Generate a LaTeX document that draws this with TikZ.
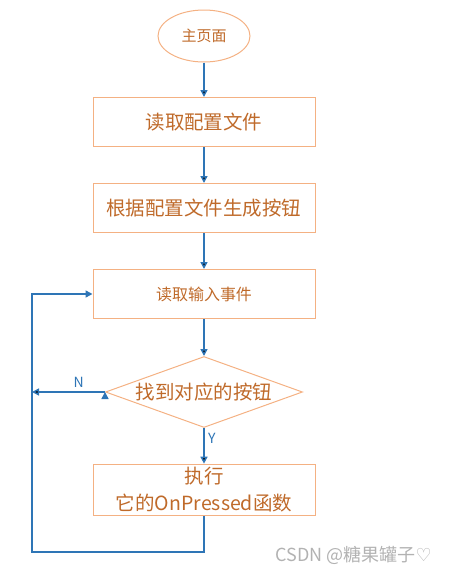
\documentclass[tikz,border=0pt]{standalone}
\usepackage{fontspec}
\setmainfont{Noto Sans CJK SC}
\newfontfamily\heartfont{DejaVu Sans}
\usetikzlibrary{shapes.geometric,arrows.meta}
\definecolor{boxline}{HTML}{F4B183}
\definecolor{boxtext}{HTML}{BF6A2A}
\definecolor{flowblue}{HTML}{2E75B6}

\tikzset{
	stepbox/.style={shape=rectangle,draw=boxline,line width=1pt,minimum width=222pt,minimum height=49pt,text=boxtext,font=\fontsize{19.5}{23}\selectfont},
	startnode/.style={shape=ellipse,draw=boxline,line width=1pt,minimum width=92pt,minimum height=52pt,inner sep=0pt,text=boxtext,font=\fontsize{15}{18}\selectfont},
	decision/.style={shape=diamond,draw=boxline,line width=1pt,aspect=2.77,inner sep=0pt,minimum width=197pt,minimum height=71pt,text=boxtext,font=\fontsize{19.5}{23}\selectfont},
	flow/.style={draw=flowblue,line width=1.5pt,-{Triangle[length=7pt,width=7pt]}},
	flowlabel/.style={text=flowblue,font=\fontsize{14}{17}\selectfont}
}

\begin{document}
\begin{tikzpicture}[x=1pt,y=-1pt]
	\useasboundingbox (0,0) rectangle (454,574);

	\node[startnode] (home) at (204,36)  {主页面};
	\node[stepbox] (read)  at (204,122) {读取配置文件};
	\node[stepbox] (gen)   at (204,208) {根据配置文件生成按钮};
	\node[stepbox,font=\fontsize{16}{19}\selectfont] (input) at (204,294) {读取输入事件};
	\node[decision] (find) at (204,392) {找到对应的按钮};
	\node[stepbox,align=center,font=\fontsize{19.5}{27}\selectfont] (run) at (204,490) {执行\\它的OnPressed函数};

	\coordinate (nend) at (32,392);
	\coordinate (back) at (32,552);

	\path[flow] (home) edge (read);
	\path[flow] (read) edge (gen);
	\path[flow] (gen) edge (input);
	\path[flow] (input) edge (find);
	\path[flow] (find) edge node[flowlabel,right,pos=0.3]{Y} (run);
	\path[flow] (find.west) edge node[flowlabel,above,pos=0.36]{N} (nend);
	\draw[flow] (run.south) |- (back) |- (input.west);

	\node[text=black!30,font=\fontsize{18}{21}\selectfont,anchor=west] (mark) at (272,555) {CSDN @糖果罐子{\heartfont ♡}};
\end{tikzpicture}
\end{document}
